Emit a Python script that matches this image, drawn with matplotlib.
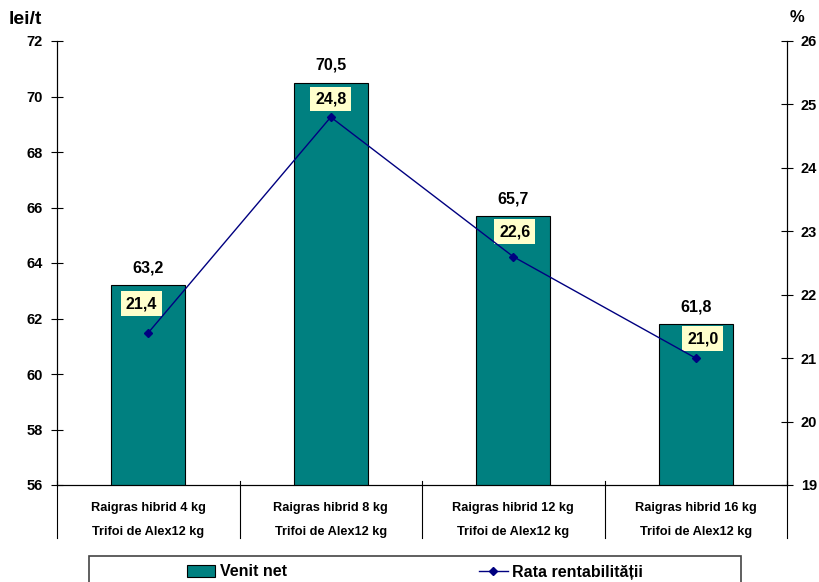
import matplotlib
matplotlib.use("Agg")
import matplotlib.pyplot as plt
from matplotlib.patches import Rectangle, Patch
from matplotlib.lines import Line2D
import matplotlib.transforms as mtransforms

plt.rcParams['font.family'] = ['Liberation Sans', 'DejaVu Sans']
plt.rcParams['font.weight'] = 'bold'

categories = ["Raigras hibrid 4 kg\n\nTrifoi de Alex12 kg",
              "Raigras hibrid 8 kg\n\nTrifoi de Alex12 kg",
              "Raigras hibrid 12 kg\n\nTrifoi de Alex12 kg",
              "Raigras hibrid 16 kg\n\nTrifoi de Alex12 kg"]
venit_net = [63.2, 70.5, 65.7, 61.8]
rata = [21.4, 24.8, 22.6, 21.0]
left_ticks = [56, 58, 60, 62, 64, 66, 68, 70, 72]
right_ticks = [19, 20, 21, 22, 23, 24, 25, 26]

# label offsets (points) for the rate labels
rate_label_offsets = [(-5, 21), (0, 13), (1, 18), (5, 14)]

W, H = 820, 582
fig = plt.figure(figsize=(W/100, H/100), dpi=100)
ax = fig.add_axes([57/W, 1-485/H, (787-57)/W, (485-41)/H])
x = list(range(len(categories)))
ax.bar(x, venit_net, width=0.405, color='#008080', edgecolor='black', linewidth=0.8, zorder=2)
ax.set_xlim(-0.5, 3.5)
ax.set_ylim(56, 72)
ax.set_yticks(left_ticks)
ax.set_yticklabels([str(t) for t in left_ticks], fontsize=10.5, fontweight='bold')
ax.tick_params(axis='y', direction='inout', length=8, width=0.8, pad=6)
ax.set_xticks(x)
ax.set_xticklabels(categories, fontsize=9.2, fontweight='bold', linespacing=1.0)
ax.tick_params(axis='x', length=0, pad=12)
for s in ['top']:
    ax.spines[s].set_visible(False)
for s in ['left', 'right', 'bottom']:
    ax.spines[s].set_linewidth(0.8)

for xi, v in zip(x, venit_net):
    ax.annotate(f"{v:.1f}".replace('.', ','), (xi, v), xytext=(0, 7), textcoords='offset points',
                ha='center', va='bottom', fontsize=11.5, fontweight='bold')

# category separators
trans = mtransforms.blended_transform_factory(ax.transData, ax.transAxes)
for b in [-0.5, 0.5, 1.5, 2.5, 3.5]:
    ax.plot([b, b], [0.008, -0.12], color='black', lw=0.8, transform=trans, clip_on=False, zorder=3)

ax2 = ax.twinx()
ax2.set_ylim(19, 26)
ax2.set_yticks(right_ticks)
ax2.set_yticklabels([str(t) for t in right_ticks], fontsize=10.5, fontweight='bold')
ax2.tick_params(axis='y', direction='inout', length=8, width=0.8, pad=6)
ax2.spines['top'].set_visible(False)
for s in ['left', 'right', 'bottom']:
    ax2.spines[s].set_linewidth(0.8)
ax2.plot(x, rata, color='#000080', lw=1.0, marker='D', markersize=4, zorder=4)
for xi, v, off in zip(x, rata, rate_label_offsets):
    ax2.annotate(f"{v:.1f}".replace('.', ','), (xi, v), xytext=off, textcoords='offset points',
                 ha='center', va='center', fontsize=11.5, fontweight='bold',
                 bbox=dict(boxstyle='square,pad=0.3', fc='#FFFFCC', ec='none'))

fig.text(9/W, 1-20/H, "lei/t", fontsize=14, fontweight='bold', ha='left', va='center')
fig.text(797/W, 1-18/H, "%", fontsize=12, fontweight='bold', ha='center', va='center')

# legend frame
fig.patches.append(Rectangle((89/W, -0.02), (741-89)/W, 1-556/H + 0.02, transform=fig.transFigure,
                             fill=False, ec='#444444', lw=1.2))
handles = [Patch(facecolor='#008080', edgecolor='black', linewidth=0.8),
           Line2D([], [], color='#000080', marker='D', markersize=4, lw=1.0)]
fig.legend(handles, ["Venit net", "Rata rentabilității"], loc='center', ncol=2,
           bbox_to_anchor=(415/W, 1-572/H), frameon=False, prop=dict(size=11.5, weight='bold'),
           columnspacing=12.0, handlelength=1.8, handletextpad=0.3, handleheight=0.8)

fig.savefig("out.png", dpi=100)
